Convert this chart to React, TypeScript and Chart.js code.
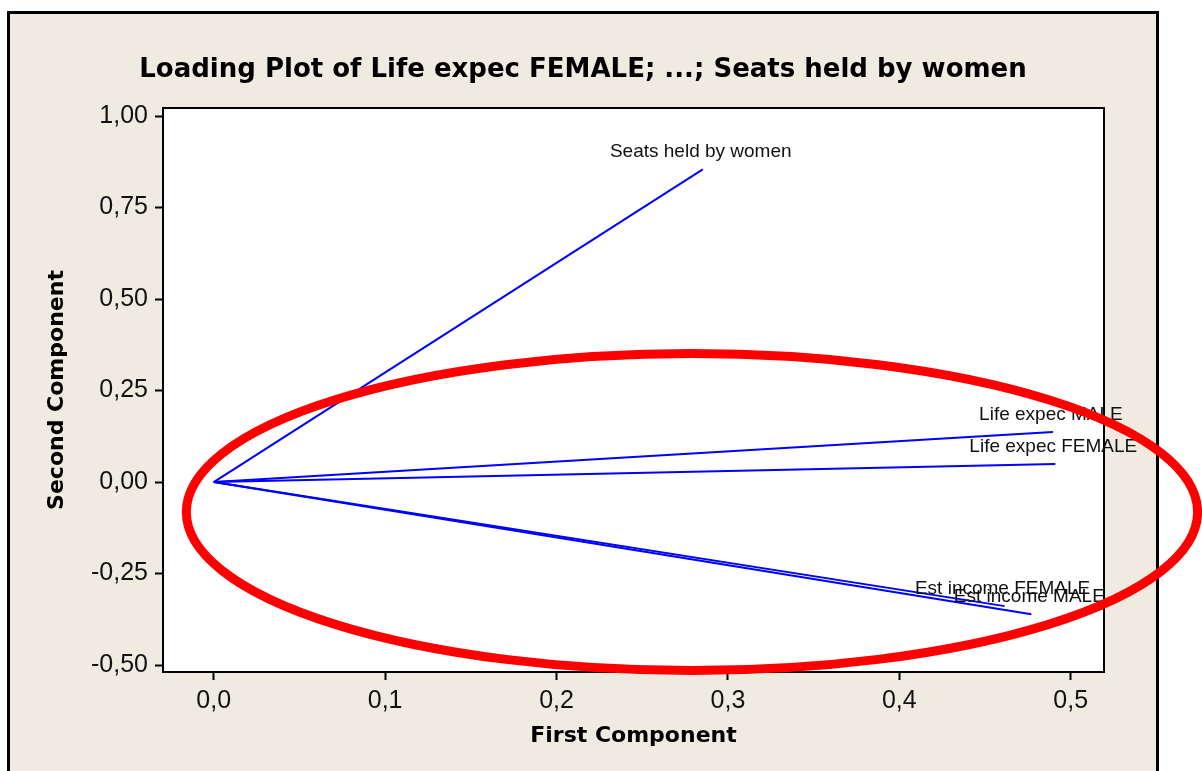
import React, { useEffect, useRef } from 'react';
import { Chart, registerables } from 'chart.js';

Chart.register(...registerables);

// ---- data ----
const variableNames = [
  'Life expec FEMALE',
  'Life expec MALE',
  'Est income FEMALE',
  'Est income MALE',
  'Seats held by women',
];
const firstComponent = [0.491, 0.4896, 0.4614, 0.477, 0.2853];
const secondComponent = [0.049, 0.1366, -0.339, -0.361, 0.854];

const xTickValues = [0, 0.1, 0.2, 0.3, 0.4, 0.5];
const xTickLabels = ['0,0', '0,1', '0,2', '0,3', '0,4', '0,5'];
const yTickValues = [-0.5, -0.25, 0, 0.25, 0.5, 0.75, 1];
const yTickLabels = ['-0,50', '-0,25', '0,00', '0,25', '0,50', '0,75', '1,00'];
const xRange = [-0.0296, 0.5194];
const yRange = [-0.519, 1.0219];

// red highlight ellipse (in data units)
const highlightCenter = [0.279, -0.082];
const highlightRadii = [0.295, 0.433];

const titleText = 'Loading Plot of Life expec FEMALE; ...; Seats held by women';
const xTitle = 'First Component';
const yTitle = 'Second Component';

const BEIGE = 'rgb(239,235,225)';
const REG_FONT = '"Liberation Sans", Arial, sans-serif';
const BOLD_FONT = '"DejaVu Sans", Verdana, sans-serif';

const W = 1202;
const H = 771;

const customPlugin = {
  id: 'loadingPlotDecor',
  beforeDraw(chart: any) {
    const { ctx, chartArea: a } = chart;
    ctx.save();
    ctx.fillStyle = '#ffffff';
    ctx.fillRect(a.left, a.top, a.right - a.left, a.bottom - a.top);
    ctx.restore();
  },
  afterDatasetsDraw(chart: any) {
    const { ctx, chartArea: a } = chart;
    const xs = chart.scales.x;
    const ys = chart.scales.y;
    ctx.save();
    ctx.strokeStyle = '#000';
    ctx.lineWidth = 2;
    ctx.strokeRect(a.left, a.top, a.right - a.left, a.bottom - a.top);
    ctx.fillStyle = '#111';
    ctx.font = `19px ${REG_FONT}`;
    ctx.textAlign = 'center';
    ctx.textBaseline = 'alphabetic';
    variableNames.forEach((name, i) => {
      const px = xs.getPixelForValue(firstComponent[i]);
      const py = ys.getPixelForValue(secondComponent[i]);
      ctx.fillText(name, px - 2, py - 12);
    });
    ctx.restore();
  },
  afterDraw(chart: any) {
    const { ctx } = chart;
    const xs = chart.scales.x;
    const ys = chart.scales.y;
    ctx.save();
    ctx.fillStyle = '#000';
    ctx.font = `bold 26px ${BOLD_FONT}`;
    ctx.textAlign = 'center';
    ctx.textBaseline = 'alphabetic';
    ctx.fillText(titleText, 583, 77);

    const cx = xs.getPixelForValue(highlightCenter[0]);
    const cy = ys.getPixelForValue(highlightCenter[1]);
    const rx = xs.getPixelForValue(highlightCenter[0] + highlightRadii[0]) - cx;
    const ry = cy - ys.getPixelForValue(highlightCenter[1] + highlightRadii[1]);
    ctx.beginPath();
    ctx.ellipse(cx, cy, Math.abs(rx), Math.abs(ry), 0, 0, Math.PI * 2);
    ctx.strokeStyle = '#ff0000';
    ctx.lineWidth = 9;
    ctx.stroke();
    ctx.restore();
  },
};

export default function App() {
  const canvasRef = useRef<HTMLCanvasElement | null>(null);

  useEffect(() => {
    const canvas = canvasRef.current;
    if (!canvas) return;
    const datasets = variableNames.map((name, i) => ({
      label: name,
      data: [
        { x: 0, y: 0 },
        { x: firstComponent[i], y: secondComponent[i] },
      ],
      showLine: true,
      borderColor: '#0000ff',
      backgroundColor: '#0000ff',
      borderWidth: 2,
      pointRadius: 0,
      pointHoverRadius: 0,
      fill: false,
    }));

    const chart = new Chart(canvas, {
      type: 'scatter',
      data: { datasets },
      options: {
        animation: false,
        responsive: false,
        maintainAspectRatio: false,
        events: [],
        layout: { padding: { top: 108, right: 98, bottom: 0, left: 0 } },
        plugins: {
          legend: { display: false },
          title: { display: false },
          tooltip: { enabled: false },
        },
        scales: {
          x: {
            type: 'linear',
            min: xRange[0],
            max: xRange[1],
            afterFit: (scale: any) => {
              scale.height = H - 672;
            },
            afterBuildTicks: (scale: any) => {
              scale.ticks = xTickValues.map((value) => ({ value }));
            },
            grid: {
              display: true,
              drawOnChartArea: false,
              drawTicks: true,
              tickLength: 8,
              tickWidth: 2,
              tickColor: '#000',
            },
            border: { display: false },
            ticks: {
              autoSkip: false,
              maxRotation: 0,
              padding: 6,
              color: '#111',
              font: { family: REG_FONT, size: 25 },
              callback: (_v: any, index: number) => xTickLabels[index],
            },
            title: {
              display: true,
              text: xTitle,
              color: '#000',
              font: { family: BOLD_FONT, size: 22, weight: 'bold' },
              padding: { top: 0, bottom: 22 },
            },
          },
          y: {
            type: 'linear',
            min: yRange[0],
            max: yRange[1],
            afterFit: (scale: any) => {
              scale.width = 163;
            },
            afterBuildTicks: (scale: any) => {
              scale.ticks = yTickValues.map((value) => ({ value }));
            },
            grid: {
              display: true,
              drawOnChartArea: false,
              drawTicks: true,
              tickLength: 8,
              tickWidth: 2,
              tickColor: '#000',
            },
            border: { display: false },
            ticks: {
              autoSkip: false,
              padding: 7,
              color: '#111',
              font: { family: REG_FONT, size: 25 },
              callback: (_v: any, index: number) => yTickLabels[index],
            },
            title: {
              display: true,
              text: yTitle,
              color: '#000',
              font: { family: BOLD_FONT, size: 22, weight: 'bold' },
              padding: { top: 44, bottom: 0 },
            },
          },
        },
      },
      plugins: [customPlugin],
    });
    return () => chart.destroy();
  }, []);

  return (
    <div
      style={{
        position: 'relative',
        width: W,
        height: H,
        overflow: 'hidden',
        background: '#ffffff',
      }}
    >
      <style>{'html,body{margin:0;padding:0;overflow:hidden;background:#fff;}'}</style>
      <div
        style={{
          position: 'absolute',
          left: 7,
          top: 11,
          width: 1146,
          height: 820,
          border: '3px solid #000',
          background: BEIGE,
        }}
      />
      <canvas
        ref={canvasRef}
        width={W}
        height={H}
        style={{ position: 'absolute', left: 0, top: 0, width: W, height: H }}
      />
    </div>
  );
}
